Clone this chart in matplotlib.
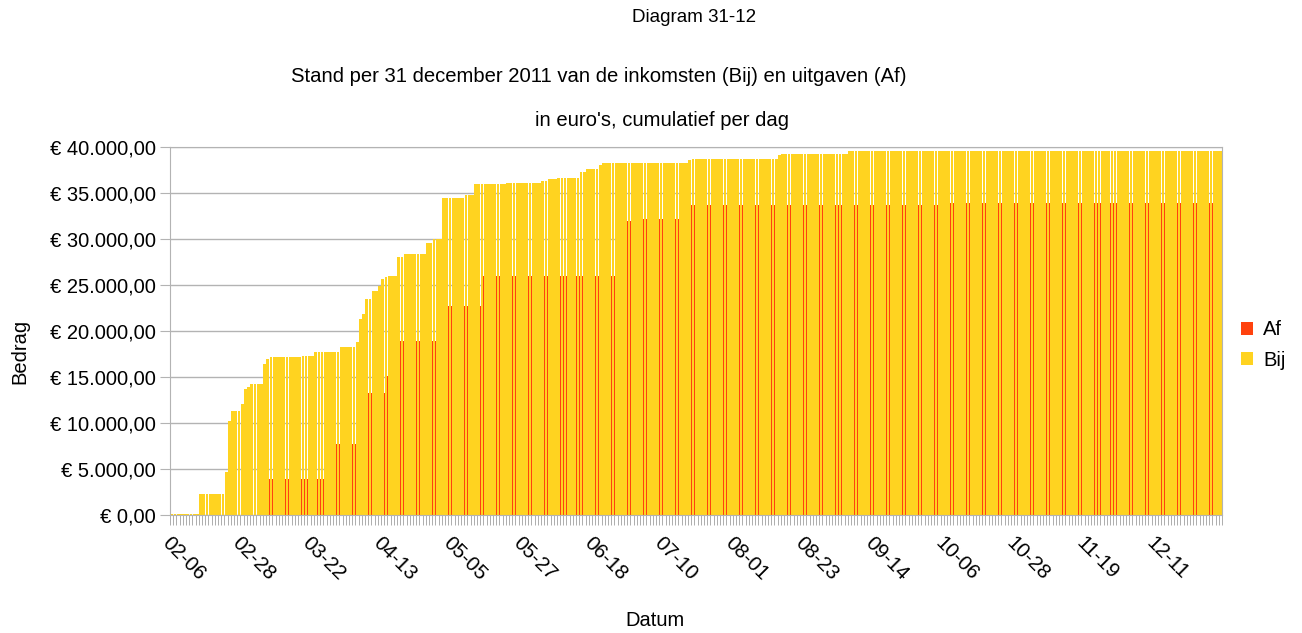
import matplotlib.pyplot as plt
import numpy as np
import pandas as pd
from matplotlib.transforms import ScaledTranslation

plt.rcParams['font.family'] = ['Liberation Sans', 'DejaVu Sans']

# categories: every day from 6 Feb to 31 Dec 2011
dates = pd.date_range('2011-02-06', '2011-12-31', freq='D')

# cumulative totals at the days they change
bij_days = ['02-06', '02-15', '02-23', '02-24', '02-25', '02-28', '03-01', '03-02',
            '03-03', '03-07', '03-08', '03-09', '03-19', '03-23', '03-31', '04-05',
            '04-06', '04-07', '04-08', '04-10', '04-12', '04-13', '04-14', '04-15',
            '04-18', '04-20', '04-27', '04-29', '05-02', '05-09', '05-12', '05-22',
            '06-02', '06-04', '06-07', '06-14', '06-16', '06-20', '06-21', '06-26',
            '07-18', '07-19', '08-15', '08-16', '09-06']
bij_vals = [80, 2280, 4670, 10200, 11300, 12060, 13700, 13900,
            14240, 16400, 16950, 17170, 17320, 17700, 18260, 18800,
            21300, 21850, 23480, 24350, 24930, 25650, 25900, 26010,
            28040, 28330, 29560, 29970, 34420, 34780, 35950, 36130,
            36300, 36490, 36670, 37320, 37580, 38050, 38230, 38300,
            38600, 38670, 39130, 39200, 39560]

af_days = ['02-06', '03-06', '03-08', '03-28', '04-07', '04-15', '04-19', '05-02',
           '05-15', '06-26', '06-27', '07-04', '07-16', '10-06']
af_vals = [0, 60, 3900, 7700, 13300, 15100, 18900, 22750,
           26000, 26740, 32000, 32140, 33700, 33950]


def daily(days, vals):
    s = pd.Series(vals, index=pd.to_datetime(['2011-' + d for d in days]))
    return s.reindex(dates).ffill().values


af = daily(af_days, af_vals)
bij = daily(bij_days, bij_vals)
labels = dates.strftime('%m-%d')

W, H = 1302, 633
fig = plt.figure(figsize=(W / 100, H / 100), dpi=100)
ax = fig.add_axes([170 / W, 1 - 515 / H, 1052 / W, 368 / H])

# grouped bars per day; at this resolution the Af bar is only a sliver
x = np.arange(len(dates))
wa = 0.13
ax.bar(x - 0.5, af, width=wa, align='edge', color='#ff420e', linewidth=0,
       antialiased=False, label='Af')
ax.bar(x - 0.5 + wa, bij, width=1 - wa, align='edge', color='#ffd320', linewidth=0,
       antialiased=False, label='Bij')

ax.set_xlim(-0.5, len(dates) - 0.5)
ax.set_ylim(0, 40000)
yt = np.arange(0, 40001, 5000)
ax.set_yticks(yt)
ax.set_yticklabels(['€ ' + f'{v:,.2f}'.replace(',', 'X').replace('.', ',').replace('X', '.')
                    for v in yt])
ax.grid(axis='y', color='#b3b3b3', linewidth=1)
ax.set_axisbelow(True)
for s in ax.spines.values():
    s.set_color('#b3b3b3')

ax.set_xticks(x[::22])
ax.set_xticklabels(labels[::22], rotation=-45, ha='left', va='top', rotation_mode='anchor')
shift = ScaledTranslation(5 / 100, 0, fig.dpi_scale_trans)
for lab in ax.get_xticklabels():
    lab.set_transform(lab.get_transform() + shift)
ax.set_xticks(np.arange(len(dates) + 1) - 0.5, minor=True)
ax.tick_params(axis='x', which='both', length=7, color='#a0a0a0', labelsize=14.8, pad=13)
ax.tick_params(axis='x', which='major', length=0)
ax.tick_params(axis='y', length=7, color='#b3b3b3', labelsize=14.5, pad=3)

ax.legend(loc='center left', bbox_to_anchor=(1223 / W, 1 - 345 / H), bbox_transform=fig.transFigure,
          frameon=False, fontsize=14.5, handlelength=0.6, handleheight=0.6, handletextpad=0.5,
          labelspacing=0.55)

fig.text(694 / W, 1 - 17 / H, 'Diagram 31-12', ha='center', va='center', fontsize=13.5)
fig.text(599 / W, 1 - 77 / H, 'Stand per 31 december 2011 van de inkomsten (Bij) en uitgaven (Af)',
         ha='center', va='center', fontsize=14.6)
fig.text(662 / W, 1 - 121 / H, "in euro's, cumulatief per dag", ha='center', va='center', fontsize=14.6)
fig.text(20 / W, 1 - 351 / H, 'Bedrag', rotation=90, ha='center', va='center', fontsize=14.5)
fig.text(655 / W, 1 - 620 / H, 'Datum', ha='center', va='center', fontsize=14.5)

fig.savefig('out.png', dpi=100)
